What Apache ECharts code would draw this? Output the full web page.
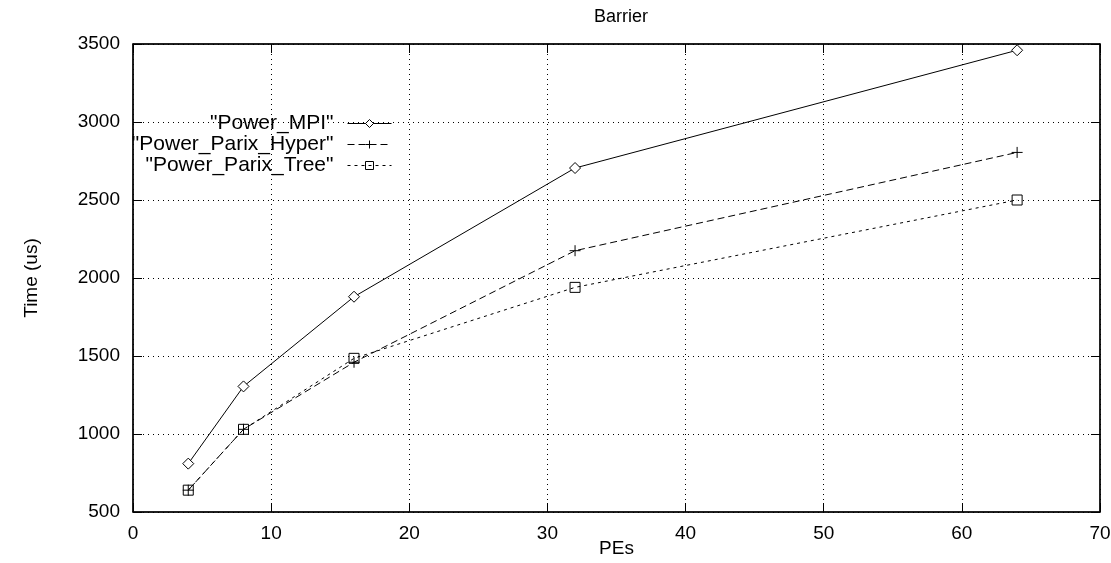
<!DOCTYPE html>
<html>
<head>
<meta charset="utf-8">
<script src="https://cdn.jsdelivr.net/npm/echarts@6/dist/echarts.min.js"></script>
<style>
    html, body { margin: 0; padding: 0; background: #fff; }
    #barrierChart { width: 1111px; height: 563px; }
</style>
</head>
<body>
<div id="barrierChart"></div>
<script type="text/javascript">
    // data
    var pes = [4, 8, 16, 32, 64];
    var powerMpi = [810, 1305, 1880, 2705, 3460];
    var parixHyper = [640, 1030, 1460, 2175, 2805];
    var parixTree = [640, 1030, 1485, 1940, 2500];

    var font = 'Liberation Sans, Arial, sans-serif';
    var plusPath = 'path://M0,5L10,5M5,0L5,10';

    function pairs(ys) {
        var out = [];
        for (var i = 0; i < pes.length; i++) out.push([pes[i], ys[i]]);
        return out;
    }

    function legendFor(name, top) {
        return {
            data: [name],
            right: 719,
            top: top,
            align: 'right',
            itemWidth: 44,
            itemHeight: 10,
            itemGap: 0,
            padding: 0,
            lineStyle: {width: 1},
            itemStyle: {borderWidth: 1},
            textStyle: {fontFamily: font, fontSize: 21, color: '#000', padding: [0, 9, 0, 0]}
        };
    }

    var chart = echarts.init(document.getElementById('barrierChart'));
    var option = {
        animation: false,
        backgroundColor: '#fff',
        title: {
            text: 'Barrier',
            left: 616,
            textAlign: 'center',
            top: 3,
            textStyle: {fontFamily: font, fontSize: 18, fontWeight: 'normal', color: '#000'}
        },
        legend: [
            legendFor('"Power_MPI"', 113),
            legendFor('"Power_Parix_Hyper"', 134),
            legendFor('"Power_Parix_Tree"', 155)
        ],
        grid: {
            left: 133, right: 11, top: 44, bottom: 51,
            outerBoundsMode: 'none', containLabel: false,
            show: true, borderColor: '#000', borderWidth: 1
        },
        xAxis: [{
            type: 'value', min: 0, max: 70, interval: 10,
            name: 'PEs', nameLocation: 'middle', nameGap: 27, nameMoveOverlap: false,
            nameTextStyle: {fontFamily: font, fontSize: 19, color: '#000'},
            axisLine: {onZero: false, lineStyle: {color: '#000', width: 1.5}},
            axisTick: {inside: true, length: 9, lineStyle: {color: '#000'}},
            axisLabel: {fontFamily: font, fontSize: 19, color: '#000', margin: 12},
            splitLine: {show: true, lineStyle: {color: '#000', type: [1, 4], width: 1}}
        }, {
            type: 'value', min: 0, max: 70, interval: 10, position: 'top',
            axisLine: {show: true, onZero: false, lineStyle: {color: '#000', width: 1.5}},
            axisTick: {show: true, inside: true, length: 9, lineStyle: {color: '#000'}},
            axisLabel: {show: false},
            splitLine: {show: false}
        }],
        yAxis: [{
            type: 'value', min: 500, max: 3500, interval: 500,
            name: 'Time (us)', nameLocation: 'middle', nameGap: 92, nameRotate: 90,
            nameTextStyle: {fontFamily: font, fontSize: 19, color: '#000'},
            axisLine: {show: true, onZero: false, lineStyle: {color: '#000', width: 1.5}},
            axisTick: {show: true, inside: true, length: 9, lineStyle: {color: '#000'}},
            axisLabel: {fontFamily: font, fontSize: 19, color: '#000', margin: 13,
                formatter: function (v) { return String(v); }},
            splitLine: {show: true, lineStyle: {color: '#000', type: [1, 4], width: 1}}
        }, {
            type: 'value', min: 500, max: 3500, interval: 500, position: 'right',
            axisLine: {show: true, onZero: false, lineStyle: {color: '#000', width: 1.5}},
            axisTick: {show: true, inside: true, length: 9, lineStyle: {color: '#000'}},
            axisLabel: {show: false},
            splitLine: {show: false}
        }],
        series: [
            {
                name: '"Power_MPI"', type: 'line', data: pairs(powerMpi),
                symbol: 'diamond', symbolSize: 11, showAllSymbol: true,
                lineStyle: {color: '#000', width: 1, type: 'solid'},
                itemStyle: {color: '#fff', borderColor: '#000', borderWidth: 1}
            },
            {
                name: '"Power_Parix_Hyper"', type: 'line', data: pairs(parixHyper),
                symbol: plusPath, symbolSize: 11, showAllSymbol: true,
                lineStyle: {color: '#000', width: 1, type: [7, 4]},
                itemStyle: {color: 'none', borderColor: '#000', borderWidth: 1}
            },
            {
                name: '"Power_Parix_Tree"', type: 'line', data: pairs(parixTree),
                symbol: 'rect', symbolSize: 10, showAllSymbol: true,
                lineStyle: {color: '#000', width: 1, type: [3, 4]},
                itemStyle: {color: 'none', borderColor: '#000', borderWidth: 1}
            }
        ]
    };
    chart.setOption(option);
</script>
</body>
</html>
